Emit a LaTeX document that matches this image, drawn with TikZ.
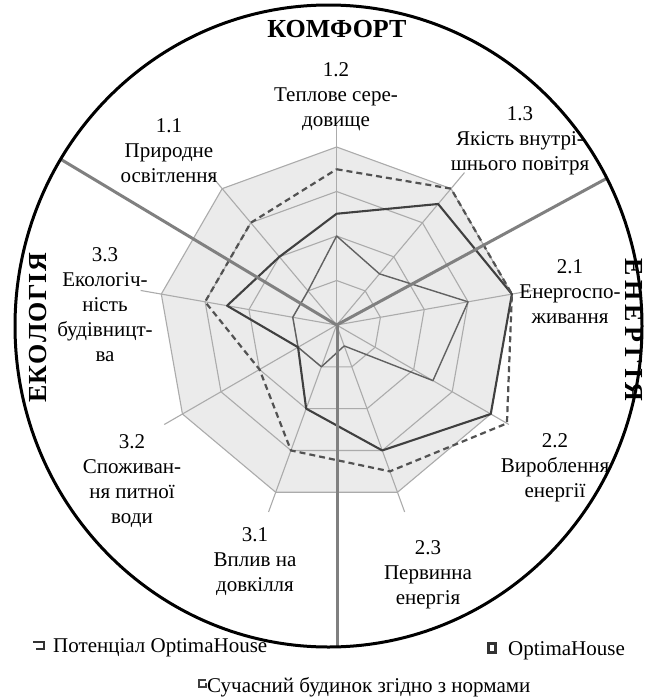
\documentclass[tikz,border=0pt]{standalone}
\usepackage{fontspec}
\setmainfont{Liberation Serif}
\usetikzlibrary{calc}
\begin{document}
\begin{tikzpicture}[x=1pt,y=-1pt,
  lbl/.style={align=center, font=\fontsize{21}{25}\selectfont, inner sep=0pt},
  ttl/.style={font=\fontsize{26}{28}\selectfont\bfseries, inner sep=0pt},
  gridline/.style={draw=black!33, line width=1.1pt},
  potline/.style={draw=black!68, line width=2.2pt, dash pattern=on 6pt off 4pt},
  optline/.style={draw=black!75, line width=2.1pt, line join=round},
  normline/.style={draw=black!62, line width=1.4pt, line join=round},
  secline/.style={draw=black!50, line width=3pt},
  legtext/.style={font=\fontsize{21}{25}\selectfont, inner sep=0pt, anchor=base west}]
\useasboundingbox (0,0) rectangle (646,697);
\fill[white] (0,0) rectangle (646,697);
\coordinate (C) at (336.6,325);
% radar chart
\begin{scope}[shift={(336.6,325)}, yscale=-1]
  \fill[black!8] (90:178) \foreach \a in {50,10,-30,-70,-110,-150,-190,-230}{ -- (\a:178)} -- cycle;
  \foreach \r in {44.5,89,133.5,178}
    \draw[gridline] (90:\r) \foreach \a in {50,10,-30,-70,-110,-150,-190,-230}{ -- (\a:\r)} -- cycle;
  \foreach \a in {90,50,10,-30,-70,-110,-150,-190,-230}
    \draw[gridline] (0,0) -- (\a:199);
  % Сучасний будинок
  \draw[normline] (90:{2*44.5}) \foreach \a/\v in {50/1.5,10/3,-30/2.5,-70/0.5,-110/1,-150/1,-190/1,-230/1}{ -- (\a:{\v*44.5})} -- cycle;
  % OptimaHouse
  \draw[optline] (90:{2.5*44.5}) \foreach \a/\v in {50/3.55,10/4,-30/4,-70/3,-110/2,-150/1,-190/2.5,-230/2}{ -- (\a:{\v*44.5})} -- cycle;
  % Потенціал
  \draw[potline] (90:{3.5*44.5}) \foreach \a/\v in {50/4,10/4,-30/4.42,-70/3.5,-110/3,-150/2,-190/3,-230/3}{ -- (\a:{\v*44.5})} -- cycle;
\end{scope}
% section lines
\begin{scope}
  \clip (328.5,326) ellipse [x radius=313.5, y radius=321];
  \draw[secline] (C) -- ++(-149:420);
  \draw[secline] (C) -- ++(-28.5:420);
  \draw[secline] (337.3,325) -- (337.3,700);
\end{scope}
\draw[line width=3pt] (328.5,326) ellipse [x radius=313.5, y radius=321];
% titles
\node[ttl] (komf) at (337,29) {КОМФОРТ};
\node[ttl, rotate=-90] (ener) at (634,330) {Е\kern4.5pt Н\kern4.5pt Е\kern4.5pt Р\kern4.5pt Г\kern4.5pt І\kern4.5pt Я};
\node[ttl, rotate=90] (ekol) at (38,328) {Е\kern1.2pt К\kern1.2pt О\kern1.2pt Л\kern1.2pt О\kern1.2pt Г\kern1.2pt І\kern1.2pt Я};
% axis labels
\node[lbl] (l12) at (336,97) {1.2\\Теплове сере-\\довище};
\node[lbl] (l11) at (169,151) {1.1\\Природне\\освітлення};
\node[lbl] (l13) at (520,141) {1.3\\Якість внутрі-\\шнього повітря};
\node[lbl] (l21) at (570,292) {2.1\\Енергоспо-\\живання};
\node[lbl] (l22) at (555,468) {2.2\\Вироблення\\енергії};
\node[lbl] (l23) at (428,575) {2.3\\Первинна\\енергія};
\node[lbl] (l31) at (255,562) {3.1\\Вплив на\\довкілля};
\node[lbl] (l32) at (132,481) {3.2\\Споживан-\\ня питної\\води};
\node[lbl] (l33) at (105,305) {3.3\\Екологіч-\\ність\\будівницт-\\ва};
% legend
\draw[black!80, line width=2pt] (33,642) -- (44,642) -- (44,648.5) -- (36,648.5);
\node[legtext] (lg1) at (53,652) {Потенціал OptimaHouse};
\draw[black!80, line width=2.2pt, fill=white] (488.5,643.5) rectangle (495.5,652.5);
\node[legtext] (lg2) at (508,655) {OptimaHouse};
\draw[black!75, line width=1.8pt] (206,680) -- (199,680) -- (199,687) -- (206,687) -- (206,683);
\node[legtext] (lg3) at (207,692) {Сучасний будинок згідно з нормами};
\end{tikzpicture}
\end{document}
